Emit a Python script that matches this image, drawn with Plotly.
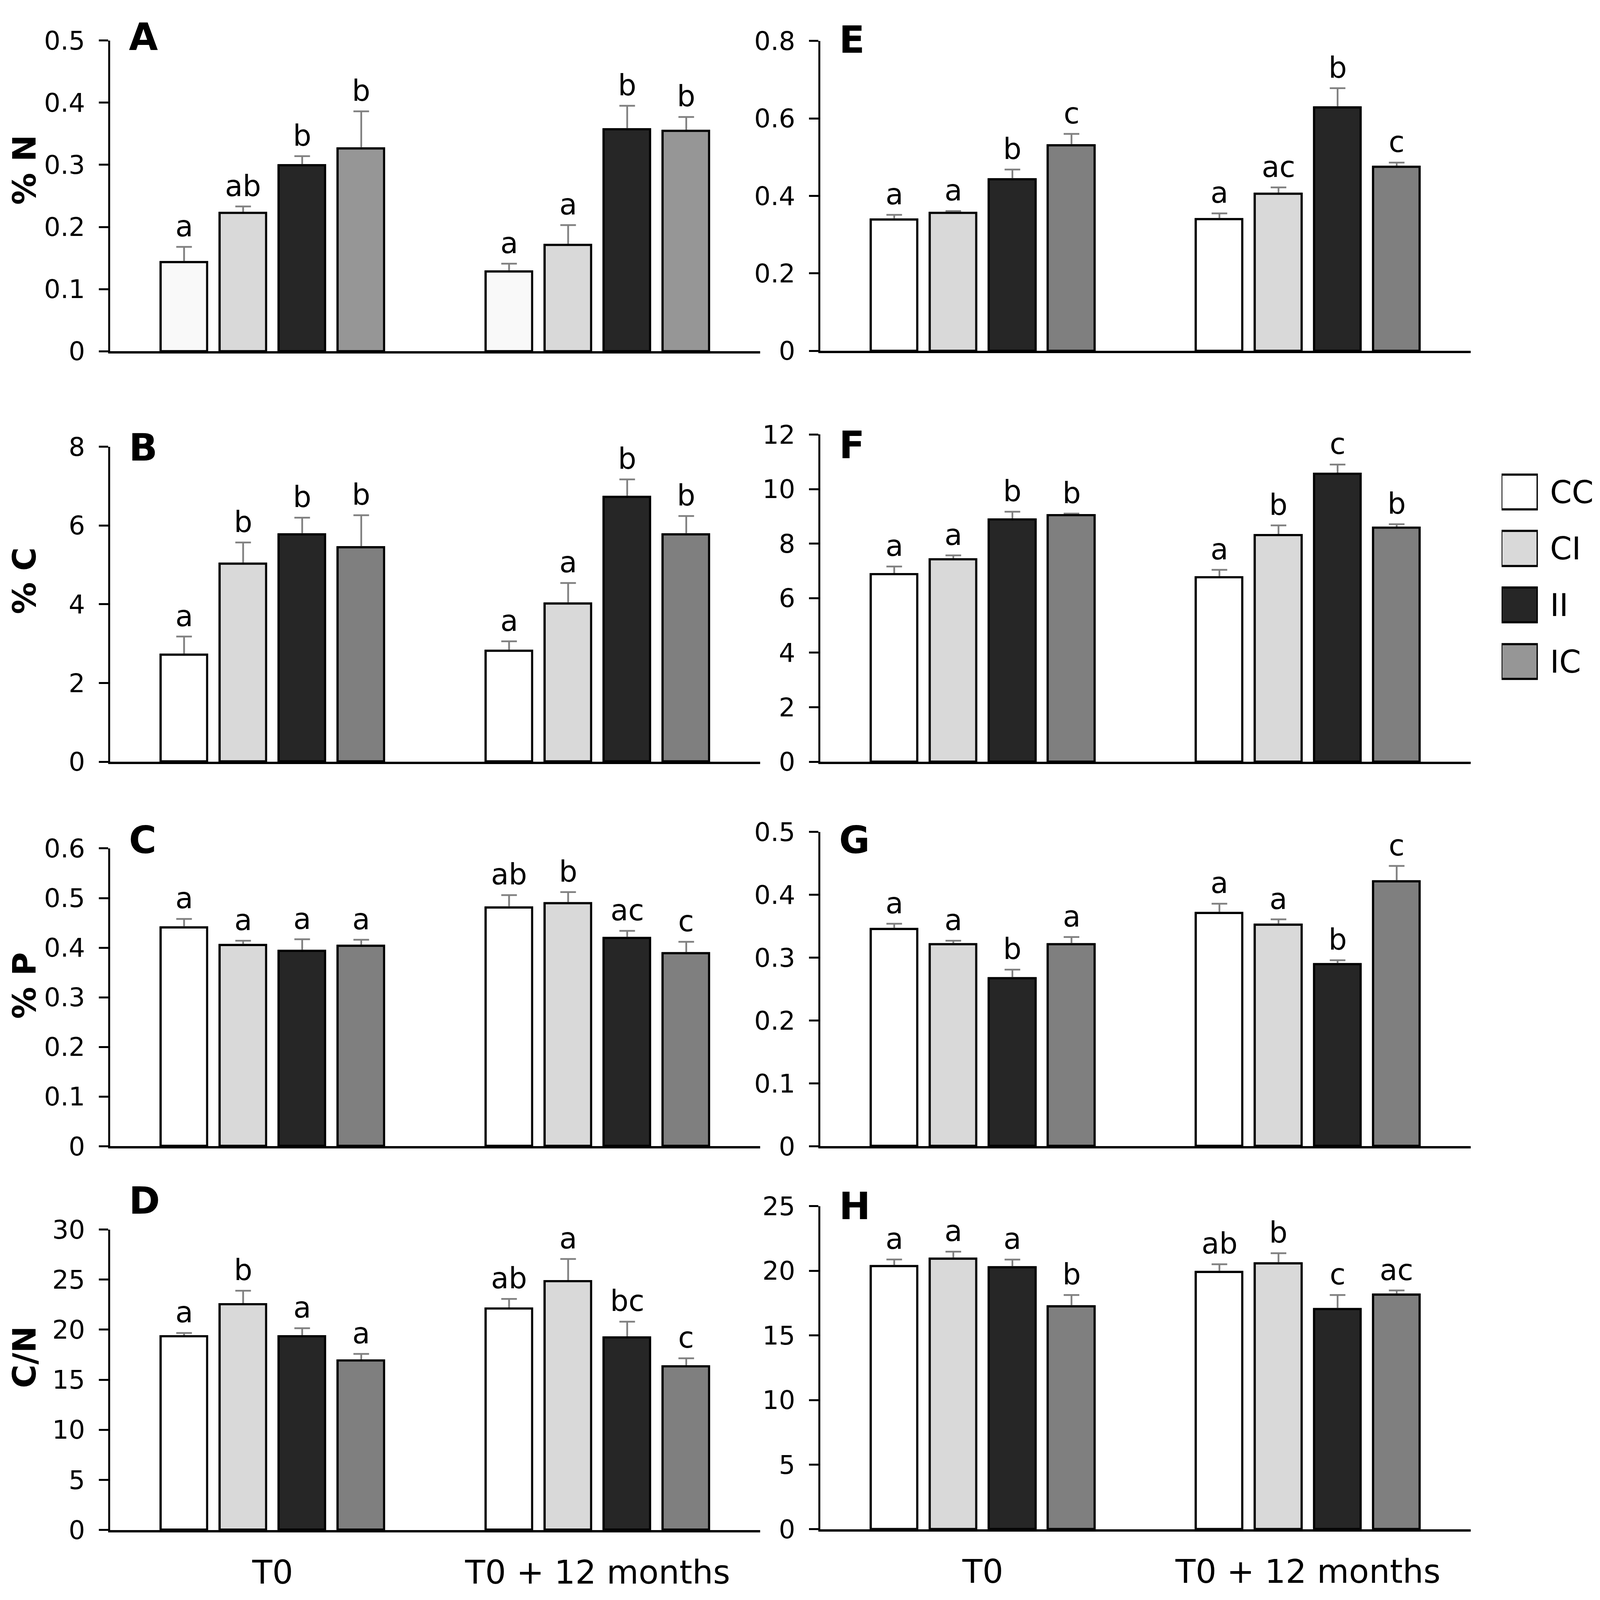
import plotly.graph_objects as go

# ---------------- data ----------------
groups = ["CC", "CI", "II", "IC"]
times = ["T0", "T0 + 12 months"]
panel_letters = ["A", "B", "C", "D", "E", "F", "G", "H"]
row_titles = ["% N", "% C", "% P", "C/N"]

# means / errors / letters: [time][group]
A_mean = [[0.143, 0.222, 0.299, 0.326], [0.128, 0.171, 0.357, 0.354]]
A_err = [[0.025, 0.011, 0.015, 0.060], [0.013, 0.032, 0.038, 0.023]]
A_sig = [["a", "ab", "b", "b"], ["a", "a", "b", "b"]]

B_mean = [[2.71, 5.02, 5.77, 5.44], [2.81, 4.01, 6.72, 5.77]]
B_err = [[0.47, 0.55, 0.43, 0.82], [0.25, 0.53, 0.45, 0.47]]
B_sig = [["a", "b", "b", "b"], ["a", "a", "b", "b"]]

C_mean = [[0.440, 0.405, 0.393, 0.403], [0.480, 0.489, 0.419, 0.388]]
C_err = [[0.018, 0.009, 0.024, 0.013], [0.026, 0.023, 0.015, 0.024]]
C_sig = [["a", "a", "a", "a"], ["ab", "b", "ac", "c"]]

D_mean = [[19.3, 22.5, 19.3, 16.9], [22.1, 24.8, 19.2, 16.3]]
D_err = [[0.37, 1.39, 0.84, 0.68], [0.97, 2.26, 1.60, 0.84]]
D_sig = [["a", "b", "a", "a"], ["ab", "a", "bc", "c"]]

E_mean = [[0.338, 0.356, 0.442, 0.530], [0.339, 0.405, 0.628, 0.474]]
E_err = [[0.013, 0.005, 0.026, 0.030], [0.016, 0.017, 0.050, 0.012]]
E_sig = [["a", "a", "b", "c"], ["a", "ac", "b", "c"]]

F_mean = [[6.87, 7.41, 8.88, 9.03], [6.75, 8.30, 10.55, 8.58]]
F_err = [[0.29, 0.16, 0.29, 0.07], [0.29, 0.37, 0.35, 0.13]]
F_sig = [["a", "a", "b", "b"], ["a", "b", "c", "b"]]

G_mean = [[0.345, 0.321, 0.267, 0.321], [0.371, 0.352, 0.289, 0.421]]
G_err = [[0.009, 0.006, 0.014, 0.012], [0.015, 0.009, 0.007, 0.025]]
G_sig = [["a", "a", "b", "a"], ["a", "a", "b", "c"]]

H_mean = [[20.33, 20.91, 20.24, 17.22], [19.88, 20.57, 17.01, 18.15]]
H_err = [[0.55, 0.57, 0.63, 0.91], [0.63, 0.79, 1.12, 0.33]]
H_sig = [["a", "a", "a", "b"], ["ab", "b", "c", "ac"]]

y_max = [0.5, 8, 0.6, 30, 0.8, 12, 0.5, 25]
y_step = [0.1, 2, 0.1, 5, 0.2, 2, 0.1, 5]

legend_swatch = [1, 1, 1, 1]

# ---------------- styling / layout ----------------
W, H = 4482, 4128          # reference geometry (positions below are fractions of it)
FIG_H = 4112               # leaves room for the page's default body margin
FONT = "DejaVu Sans"
fills_default = ["#ffffff", "#d9d9d9", "#262626", "#7f7f7f"]
fills_A = ["#f9f9f9", "#d9d9d9", "#262626", "#969696"]
legend_fills = ["#ffffff", "#d9d9d9", "#262626", "#969696"]

means = [A_mean, B_mean, C_mean, D_mean, E_mean, F_mean, G_mean, H_mean]
errs = [A_err, B_err, C_err, D_err, E_err, F_err, G_err, H_err]
sigs = [A_sig, B_sig, C_sig, D_sig, E_sig, F_sig, G_sig, H_sig]

# pixel geometry of plot areas (reference pixels)
x_px = [(301, 2129), (2298, 4127)]
y_px = [(59, 873), (1123, 1948), (2175, 2955), (3173, 3960),
        (60, 872), (1091, 1948), (2132, 2955), (3112, 3958)]
letter_y_px = [50, 1125, 2154, 3098, 57, 1119, 2154, 3112]
title_y_px = [398, 1474, 2534, 3507]

slot = 0.1817
bar_w = 0.1433

fig = go.Figure()
layout = dict(
    height=FIG_H, autosize=True,
    margin=dict(l=0, r=0, t=0, b=0, pad=0),
    paper_bgcolor="white", plot_bgcolor="white",
    showlegend=False,
    font=dict(family=FONT, color="black"),
    bargap=0, barmode="overlay",
)
annotations = []

for k in range(8):
    col = k // 4
    row = k % 4
    ax = "" if k == 0 else str(k + 1)
    xref, yref = "x" + ax, "y" + ax
    fills = fills_A if k == 0 else fills_default
    for gi, g in enumerate(groups):
        xs = [t + (gi - 1.5) * slot for t in range(len(times))]
        ys = [means[k][t][gi] for t in range(len(times))]
        es = [errs[k][t][gi] for t in range(len(times))]
        bar_marker = dict(color=fills[gi], line=dict(color="black", width=5.5))
        # bar carrying the error bar ...
        fig.add_trace(go.Bar(
            x=xs, y=ys, xaxis=xref, yaxis=yref, width=bar_w,
            marker=bar_marker, name=g, hoverinfo="skip",
            error_y=dict(type="data", array=es, symmetric=True,
                         color="#808080", thickness=4.5, width=20),
        ))
        # ... and the same bar again on top, hiding the lower half of the error bar
        fig.add_trace(go.Bar(
            x=xs, y=ys, xaxis=xref, yaxis=yref, width=bar_w,
            marker=bar_marker, name=g,
        ))
        for t in range(len(times)):
            annotations.append(dict(
                x=xs[t], y=ys[t] + es[t], xref=xref, yref=yref,
                text=sigs[k][t][gi], showarrow=False,
                yanchor="bottom", xanchor="center", yshift=8,
                font=dict(size=74, family=FONT, color="black"),
            ))
    x0, x1 = x_px[col]
    y0, y1 = y_px[k]
    layout["xaxis" + ax] = dict(
        domain=[x0 / W, x1 / W], range=[-0.5, 1.5], anchor=yref,
        showline=True, linecolor="black", linewidth=6, layer="above traces",
        showgrid=False, zeroline=False, ticks="",
        tickvals=[0, 1], ticktext=times,
        showticklabels=(row == 3), ticklabelstandoff=30,
        tickfont=dict(size=84, family=FONT, color="black"),
    )
    layout["yaxis" + ax] = dict(
        domain=[1 - y1 / H, 1 - y0 / H], range=[0, y_max[k]], anchor=xref,
        showline=True, linecolor="black", linewidth=5, layer="above traces",
        showgrid=False, zeroline=False,
        ticks="outside", ticklen=24, tickwidth=4.5, tickcolor="black",
        dtick=y_step[k], tick0=0, ticklabelstandoff=22,
        tickfont=dict(size=66, family=FONT, color="black"),
    )
    annotations.append(dict(
        x=x0 / W, y=1 - letter_y_px[k] / H, xref="paper", yref="paper",
        xanchor="left", yanchor="middle", xshift=46,
        text="<b>" + panel_letters[k] + "</b>", showarrow=False,
        font=dict(size=96, family=FONT, color="black"),
    ))

for r, title in enumerate(row_titles):
    annotations.append(dict(
        x=0, y=1 - title_y_px[r] / H, xref="paper", yref="paper",
        xanchor="left", yanchor="middle", textangle=-90, xshift=6,
        text="<b>" + title + "</b>", showarrow=False, borderpad=0,
        font=dict(size=82, family=FONT, color="black"),
    ))

# legend key (drawn as its own tiny axis)
fig.add_trace(go.Bar(
    x=legend_swatch, y=groups, orientation="h", xaxis="x9", yaxis="y9",
    width=0.616, marker=dict(color=legend_fills, line=dict(color="black", width=5.5)),
    hoverinfo="skip",
))
leg_top, leg_bot = 1168, 1760
layout["xaxis9"] = dict(domain=[4214 / W, 4316 / W], range=[0, 1], anchor="y9",
                        visible=False, fixedrange=True)
layout["yaxis9"] = dict(domain=[1 - leg_bot / H, 1 - leg_top / H], anchor="x9",
                        type="category", categoryarray=groups, range=[3.5, -0.5],
                        visible=False, fixedrange=True)
for g in groups:
    annotations.append(dict(
        x=1, y=g, xref="x9", yref="y9", xanchor="left", yanchor="middle",
        xshift=30, text=g, showarrow=False, borderpad=0,
        font=dict(size=80, family=FONT, color="black"),
    ))

layout["annotations"] = annotations
fig.update_layout(**layout)
fig.write_html("out.html")
